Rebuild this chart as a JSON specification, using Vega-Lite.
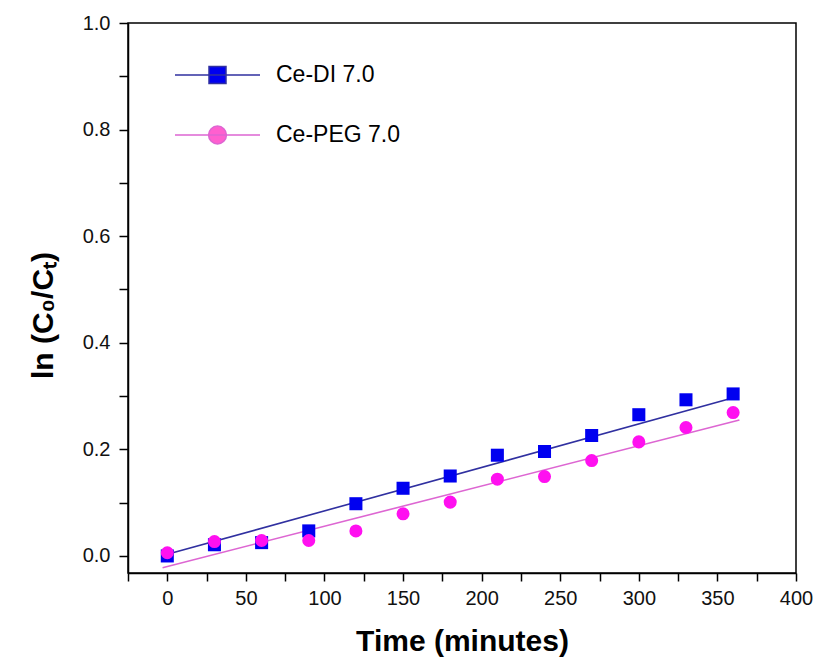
{
  "$schema": "https://vega.github.io/schema/vega-lite/v6.json",
  "width": 668,
  "height": 550,
  "autosize": "none",
  "padding": {"left": 128, "top": 23, "right": 17, "bottom": 88},
  "background": "white",
  "config": {
    "font": "Liberation Sans",
    "view": {"stroke": "black", "strokeWidth": 1.5}
  },
  "datasets": {
    "points": [
      {"series": "Ce-DI 7.0", "t": 0, "v": 0.000},
      {"series": "Ce-DI 7.0", "t": 30, "v": 0.021},
      {"series": "Ce-DI 7.0", "t": 60, "v": 0.025},
      {"series": "Ce-DI 7.0", "t": 90, "v": 0.047},
      {"series": "Ce-DI 7.0", "t": 120, "v": 0.098},
      {"series": "Ce-DI 7.0", "t": 150, "v": 0.127},
      {"series": "Ce-DI 7.0", "t": 180, "v": 0.150},
      {"series": "Ce-DI 7.0", "t": 210, "v": 0.189},
      {"series": "Ce-DI 7.0", "t": 240, "v": 0.196},
      {"series": "Ce-DI 7.0", "t": 270, "v": 0.226},
      {"series": "Ce-DI 7.0", "t": 300, "v": 0.265},
      {"series": "Ce-DI 7.0", "t": 330, "v": 0.293},
      {"series": "Ce-DI 7.0", "t": 360, "v": 0.304},
      {"series": "Ce-PEG 7.0", "t": 0, "v": 0.006},
      {"series": "Ce-PEG 7.0", "t": 30, "v": 0.027},
      {"series": "Ce-PEG 7.0", "t": 60, "v": 0.029},
      {"series": "Ce-PEG 7.0", "t": 90, "v": 0.029},
      {"series": "Ce-PEG 7.0", "t": 120, "v": 0.047},
      {"series": "Ce-PEG 7.0", "t": 150, "v": 0.079},
      {"series": "Ce-PEG 7.0", "t": 180, "v": 0.101},
      {"series": "Ce-PEG 7.0", "t": 210, "v": 0.144},
      {"series": "Ce-PEG 7.0", "t": 240, "v": 0.149},
      {"series": "Ce-PEG 7.0", "t": 270, "v": 0.179},
      {"series": "Ce-PEG 7.0", "t": 300, "v": 0.214},
      {"series": "Ce-PEG 7.0", "t": 330, "v": 0.241},
      {"series": "Ce-PEG 7.0", "t": 360, "v": 0.269}
    ],
    "fits": [
      {"series": "Ce-DI 7.0", "t": 0, "v": 0.003},
      {"series": "Ce-DI 7.0", "t": 363, "v": 0.299},
      {"series": "Ce-PEG 7.0", "t": -3, "v": -0.022},
      {"series": "Ce-PEG 7.0", "t": 364, "v": 0.255}
    ]
  },
  "encoding": {
    "x": {
      "field": "t",
      "type": "quantitative",
      "scale": {"domain": [-25, 400], "nice": false, "zero": false},
      "axis": {
        "title": "Time (minutes)",
        "values": [-25, 0, 25, 50, 75, 100, 125, 150, 175, 200, 225, 250, 275, 300, 325, 350, 375, 400],
        "labelExpr": "datum.value >= 0 && datum.value % 50 === 0 ? datum.label : ''",
        "format": "d",
        "grid": false,
        "domainColor": "black",
        "domainWidth": 1.5,
        "tickColor": "black",
        "tickWidth": 1.5,
        "tickSize": 8,
        "labelFont": "Liberation Sans",
        "labelFontSize": 20,
        "labelColor": "#111111",
        "labelPadding": 7,
        "labelFlush": false,
        "labelOverlap": false,
        "titleFont": "Liberation Sans",
        "titleFontSize": 30,
        "titleFontWeight": "bold",
        "titleColor": "black",
        "titlePadding": 18
      }
    },
    "y": {
      "field": "v",
      "type": "quantitative",
      "scale": {"domain": [-0.032, 1.0], "nice": false, "zero": false},
      "axis": {
        "title": "ln (C₀/Cₜ)",
        "values": [0, 0.1, 0.2, 0.3, 0.4, 0.5, 0.6, 0.7, 0.8, 0.9, 1.0],
        "labelExpr": "round(datum.value * 10) % 2 === 0 ? format(datum.value, '.1f') : ''",
        "grid": false,
        "domainColor": "black",
        "domainWidth": 1.5,
        "tickColor": "black",
        "tickWidth": 1.5,
        "tickSize": 9,
        "labelFont": "Liberation Sans",
        "labelFontSize": 20,
        "labelColor": "#111111",
        "labelPadding": 9,
        "labelFlush": false,
        "labelOverlap": false,
        "titleFont": "Liberation Sans",
        "titleFontSize": 30,
        "titleFontWeight": "bold",
        "titleColor": "black",
        "titlePadding": 24,
        "titleY": 292
      }
    }
  },
  "layer": [
    {
      "data": {"name": "fits"},
      "transform": [{"filter": {"field": "series", "equal": "Ce-DI 7.0"}}],
      "mark": {"type": "line", "color": "#3030a0", "strokeWidth": 1.6}
    },
    {
      "data": {"name": "fits"},
      "transform": [{"filter": {"field": "series", "equal": "Ce-PEG 7.0"}}],
      "mark": {"type": "line", "color": "#dd66d2", "strokeWidth": 1.6}
    },
    {
      "data": {"name": "points"},
      "transform": [{"filter": {"field": "series", "equal": "Ce-DI 7.0"}}],
      "mark": {"type": "point", "shape": "square", "filled": true, "color": "#0000f0", "opacity": 1, "size": 170}
    },
    {
      "data": {"name": "points"},
      "transform": [{"filter": {"field": "series", "equal": "Ce-PEG 7.0"}}],
      "mark": {"type": "point", "shape": "circle", "filled": true, "color": "#ff10f0", "opacity": 1, "size": 170}
    },
    {
      "data": {"name": "points"},
      "transform": [{"filter": {"field": "series", "equal": "none"}}],
      "mark": {"type": "point", "filled": true, "strokeWidth": 1.5, "opacity": 1},
      "encoding": {
        "fill": {
          "field": "series",
          "type": "nominal",
          "scale": {"domain": ["Ce-DI 7.0", "Ce-PEG 7.0"], "range": ["#0000f0", "#ff5fcf"]},
          "legend": {
            "title": null,
            "orient": "none",
            "legendX": 46,
            "legendY": 37,
            "padding": 0,
            "symbolSize": 7225,
            "clipHeight": 30,
            "rowPadding": 30,
            "labelOffset": 15,
            "labelFont": "Liberation Sans",
            "labelFontSize": 23,
            "labelColor": "black",
            "labelLimit": 300,
            "symbolStrokeWidth": 1.5,
            "symbolOpacity": 1
          }
        },
        "stroke": {
          "field": "series",
          "type": "nominal",
          "scale": {"domain": ["Ce-DI 7.0", "Ce-PEG 7.0"], "range": ["#3030a0", "#dd66d2"]}
        },
        "shape": {
          "field": "series",
          "type": "nominal",
          "scale": {
            "domain": ["Ce-DI 7.0", "Ce-PEG 7.0"],
            "range": [
              "M-1,0H1M-0.2,-0.2H0.2V0.2H-0.2Z",
              "M-1,0H1M0.21,0A0.21,0.21,0,1,1,-0.21,0A0.21,0.21,0,1,1,0.21,0Z"
            ]
          }
        }
      }
    }
  ]
}
